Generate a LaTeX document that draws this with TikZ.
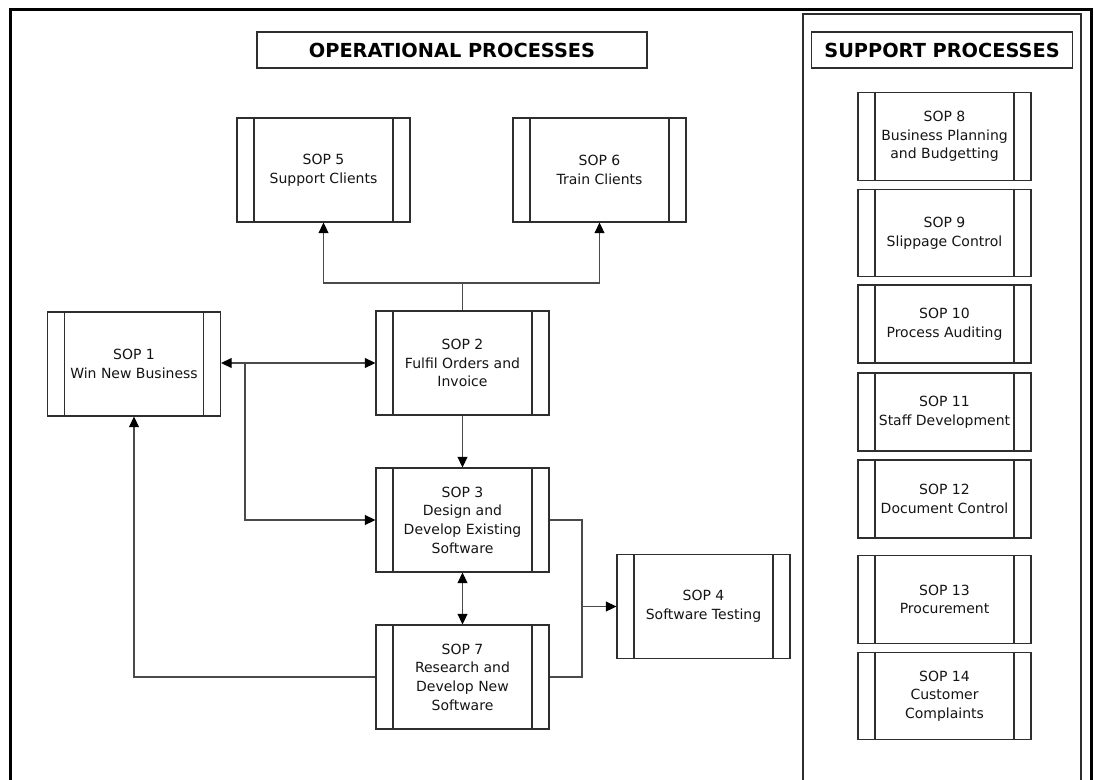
\documentclass[tikz,border=0pt]{standalone}
\usepackage{fontspec}
\setmainfont{DejaVu Sans}
\usetikzlibrary{arrows.meta}
\definecolor{edge}{HTML}{2E2E2E}
\definecolor{wire}{HTML}{4A4A4A}
\definecolor{ink}{HTML}{141414}
\begin{document}
\begin{tikzpicture}[x=0.75pt,y=-0.75pt,
  every node/.style={font=\fontsize{10.5pt}{14pt}\selectfont, align=center, inner sep=0pt, text=ink},
  sop/.style={draw=edge, line width=0.85pt, minimum width=129.75pt, minimum height=78pt,
    path picture={
      \draw[edge, line width=0.85pt]
        ([xshift=12.75pt]path picture bounding box.north west) -- ([xshift=12.75pt]path picture bounding box.south west)
        ([xshift=-12.75pt]path picture bounding box.north east) -- ([xshift=-12.75pt]path picture bounding box.south east);}},
  suptall/.style={sop, minimum height=65.5pt},
  supshort/.style={sop, minimum height=58.5pt},
  heading/.style={draw=edge, line width=0.9pt, minimum height=27pt,
    font=\fontsize{14.5pt}{17pt}\selectfont\bfseries, text=black},
  wire/.style={draw=wire, line width=0.95pt},
  arrowto/.style={-{Triangle[length=8pt,width=7.5pt,color=black]}},
  arrowboth/.style={{Triangle[length=8pt,width=7.5pt,color=black]}-{Triangle[length=8pt,width=7.5pt,color=black]}}
]
\useasboundingbox (0,0) rectangle (1094,780);
\clip (0,0) rectangle (1094,780);

% frames
\draw[black, line width=2.25pt] (10,10) rectangle (1091,820);
\draw[edge, line width=0.9pt] (803,14) rectangle (1081,820);

% headings
\node[heading, minimum width=292.5pt] (hop) at (452,50) {OPERATIONAL PROCESSES};
\node[heading, minimum width=195.75pt] (hsp) at (942,50) {SUPPORT PROCESSES};

% operational processes
\node[sop] (sop1) at (134,364)   {SOP 1\\Win New Business};
\node[sop] (sop2) at (462.5,363) {SOP 2\\Fulfil Orders and\\Invoice};
\node[sop] (sop3) at (462.5,520) {SOP 3\\Design and\\Develop Existing\\Software};
\node[sop] (sop7) at (462.5,677) {SOP 7\\Research and\\Develop New\\Software};
\node[sop] (sop4) at (703.5,606.5) {SOP 4\\Software Testing};
\node[sop] (sop5) at (323.5,170) {SOP 5\\Support Clients};
\node[sop] (sop6) at (599.5,170) {SOP 6\\Train Clients};

% support processes
\node[suptall]  (sop8)  at (944.5,136.5) {SOP 8\\Business Planning\\and Budgetting};
\node[suptall]  (sop9)  at (944.5,233)   {SOP 9\\Slippage Control};
\node[supshort] (sop10) at (944.5,324)   {SOP 10\\Process Auditing};
\node[supshort] (sop11) at (944.5,412)   {SOP 11\\Staff Development};
\node[supshort] (sop12) at (944.5,499)   {SOP 12\\Document Control};
\node[suptall]  (sop13) at (944.5,599.5) {SOP 13\\Procurement};
\node[suptall]  (sop14) at (944.5,696)   {SOP 14\\Customer\\Complaints};

% junction points
\coordinate (j56) at (462.5,283);
\coordinate (j12) at (245,363);
\coordinate (j4)  at (582,606.5);

% connectors
\draw[wire] (sop2.north) -- (j56);
\draw[wire, arrowto] (j56) -| (sop5.south);
\draw[wire, arrowto] (j56) -| (sop6.south);

\draw[wire, arrowto] (j12) -- (sop1.east |- j12);
\draw[wire, arrowto] (j12) -- (sop2.west);
\draw[wire, arrowto] (j12) |- (sop3.west);

\draw[wire, arrowto] (sop2.south) -- (sop3.north);
\draw[wire, arrowboth] (sop3.south) -- (sop7.north);

\draw[wire] (sop3.east) -| (j4) |- (sop7.east);
\draw[wire, arrowto] (j4) -- (sop4.west);

\draw[wire, arrowto] (sop7.west) -| (sop1.south);
\end{tikzpicture}
\end{document}
